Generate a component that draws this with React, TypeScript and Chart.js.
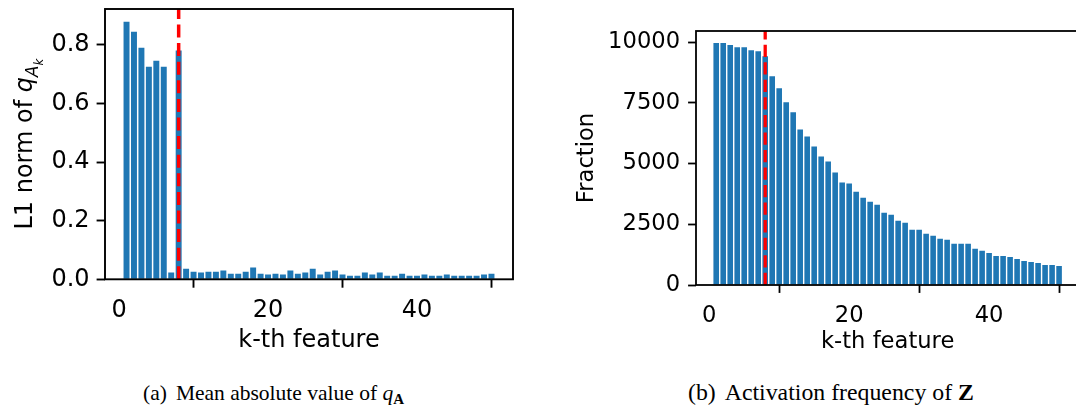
import React, { useEffect, useRef } from "react";
import { Chart, registerables } from "chart.js";

Chart.register(...registerables);

// ---------------- data ----------------
const features = [
  1, 2, 3, 4, 5, 6, 7, 8, 9, 10,
  11, 12, 13, 14, 15, 16, 17, 18, 19, 20,
  21, 22, 23, 24, 25, 26, 27, 28, 29, 30,
  31, 32, 33, 34, 35, 36, 37, 38, 39, 40,
  41, 42, 43, 44, 45, 46, 47, 48, 49, 50,
];

const l1Norm = [
  0.878, 0.844, 0.79, 0.725, 0.745, 0.725, 0.023, 0.78, 0.036, 0.026,
  0.023, 0.026, 0.026, 0.03, 0.019, 0.019, 0.026, 0.04, 0.019, 0.016,
  0.019, 0.016, 0.03, 0.019, 0.023, 0.036, 0.016, 0.026, 0.03, 0.016,
  0.0125, 0.0125, 0.023, 0.016, 0.023, 0.0125, 0.0125, 0.019, 0.0125, 0.0125,
  0.016, 0.0125, 0.0125, 0.016, 0.0125, 0.0125, 0.0125, 0.0125, 0.016, 0.019,
];

const activationFreq = [
  9959, 9959, 9876, 9793, 9793, 9669, 9628, 9421, 8595, 8099,
  7521, 7107, 6405, 6116, 5702, 5289, 5083, 4628, 4215, 4174,
  3843, 3595, 3430, 3306, 2975, 2893, 2645, 2562, 2273, 2273,
  2107, 2025, 1901, 1860, 1694, 1694, 1694, 1488, 1405, 1322,
  1198, 1198, 1157, 1074, 992, 950, 909, 826, 826, 785,
];

const threshold = 8;

const xTickValues = [0, 20, 40];
const xTickLabels = ["0", "20", "40"];
const l1TickValues = [0, 0.2, 0.4, 0.6, 0.8];
const l1TickLabels = ["0.0", "0.2", "0.4", "0.6", "0.8"];
const freqTickValues = [0, 2500, 5000, 7500, 10000];
const freqTickLabels = ["0", "2500", "5000", "7500", "10000"];

const xAxisLabel = "k-th feature";
const l1AxisLabel = "L1 norm of ";
const freqAxisLabel = "Fraction";

// ---------------- styling ----------------
const BLUE = "#1f77b4";
const RED = "#ff0000";
const FONT = "DejaVu Sans";

type Area = { left: number; top: number; right: number; bottom: number };
type PanelSpec = {
  width: number;
  height: number;
  area: Area;
  s: number;
  values: number[];
  yTicks: number[];
  yLabels: string[];
  yPad: number;
  xPad: number;
  xTitlePad: number;
  yTitle: string;
  yTitlePad: number;
  math: boolean;
  mathX: number;
};

function buildChart(canvas: HTMLCanvasElement, p: PanelSpec) {
  const fs = 24 * p.s;
  const lw = 1.9 * p.s;
  const tl = 8.4 * p.s;
  const lo = features[0] - 0.4;
  const hi = features[features.length - 1] + 0.4;
  const margin = (hi - lo) * 0.05;
  const yMax = Math.max(...p.values) * 1.05;
  const font = { family: FONT, size: fs, lineHeight: 1.2 };

  const refLine = {
    id: "refLine",
    afterDatasetsDraw(chart: any) {
      const { ctx, chartArea, scales } = chart;
      const x = scales.x.getPixelForValue(threshold);
      ctx.save();
      ctx.strokeStyle = RED;
      ctx.lineWidth = 3.5 * p.s;
      ctx.setLineDash([13 * p.s, 5.6 * p.s]);
      ctx.beginPath();
      ctx.moveTo(x, chartArea.bottom);
      ctx.lineTo(x, chartArea.top);
      ctx.stroke();
      ctx.restore();
    },
  };

  const frame = {
    id: "frame",
    afterDraw(chart: any) {
      const { ctx, chartArea } = chart;
      ctx.save();
      ctx.strokeStyle = "#000";
      ctx.lineWidth = lw;
      ctx.strokeRect(
        chartArea.left,
        chartArea.top,
        chartArea.right - chartArea.left,
        chartArea.bottom - chartArea.top
      );
      ctx.restore();
    },
  };

  const mathTitle = {
    id: "mathTitle",
    afterDraw(chart: any) {
      const { ctx, chartArea } = chart;
      const parts = [
        { t: p.yTitle, f: `${fs}px "${FONT}"`, dy: 0 },
        { t: "q", f: `italic ${fs}px "${FONT}"`, dy: 0 },
        { t: "A", f: `italic ${fs * 0.7}px "${FONT}"`, dy: fs * 0.26 },
        { t: "k", f: `italic ${fs * 0.49}px "${FONT}"`, dy: fs * 0.26 + fs * 0.7 * 0.3 },
      ];
      ctx.save();
      ctx.fillStyle = "#000";
      ctx.textBaseline = "alphabetic";
      ctx.textAlign = "left";
      const widths = parts.map((pt) => {
        ctx.font = pt.f;
        return ctx.measureText(pt.t).width;
      });
      const total = widths.reduce((a, b) => a + b, 0);
      ctx.translate(p.mathX, (chartArea.top + chartArea.bottom) / 2);
      ctx.rotate(-Math.PI / 2);
      let x = -total / 2;
      parts.forEach((pt, i) => {
        ctx.font = pt.f;
        ctx.fillText(pt.t, x, pt.dy);
        x += widths[i];
      });
      ctx.restore();
    },
  };

  const gridOpts = {
    display: true,
    drawOnChartArea: false,
    drawTicks: true,
    tickLength: tl,
    tickWidth: lw,
    tickColor: "#000",
  };

  return new Chart(canvas, {
    type: "bar",
    data: {
      datasets: [
        {
          data: features.map((k, i) => ({ x: k, y: p.values[i] })),
          backgroundColor: BLUE,
          borderWidth: 0,
          barPercentage: 0.8,
          categoryPercentage: 1,
        },
      ],
    },
    options: {
      animation: false,
      responsive: false,
      events: [],
      layout: {
        padding: {
          left: 0,
          top: p.area.top,
          right: p.width - p.area.right,
          bottom: 0,
        },
      },
      plugins: {
        legend: { display: false },
        tooltip: { enabled: false },
        title: { display: false },
      },
      scales: {
        x: {
          type: "linear",
          min: lo - margin,
          max: hi + margin,
          offset: false,
          afterFit: (sc: any) => {
            sc.height = p.height - p.area.bottom;
            sc.paddingLeft = 0;
            sc.paddingRight = 0;
          },
          afterBuildTicks: (sc: any) => {
            sc.ticks = xTickValues.map((v) => ({ value: v }));
          },
          ticks: {
            font,
            color: "#000",
            padding: p.xPad,
            maxRotation: 0,
            autoSkip: false,
            callback: (v: any) => xTickLabels[xTickValues.indexOf(Number(v))],
          },
          grid: gridOpts,
          border: { display: false },
          title: {
            display: true,
            text: xAxisLabel,
            font,
            color: "#000",
            padding: { top: 0, bottom: p.xTitlePad },
          },
        },
        y: {
          type: "linear",
          min: 0,
          max: yMax,
          afterFit: (sc: any) => {
            sc.width = p.area.left;
            sc.paddingTop = 0;
            sc.paddingBottom = 0;
          },
          afterBuildTicks: (sc: any) => {
            sc.ticks = p.yTicks.map((v) => ({ value: v }));
          },
          ticks: {
            font,
            color: "#000",
            padding: p.yPad,
            autoSkip: false,
            callback: (v: any) => p.yLabels[p.yTicks.indexOf(Number(v))],
          },
          grid: gridOpts,
          border: { display: false },
          title: p.math
            ? { display: false }
            : {
                display: true,
                text: p.yTitle,
                font,
                color: "#000",
                padding: { top: p.yTitlePad, bottom: 0 },
              },
        },
      },
    } as any,
    plugins: p.math ? [refLine, frame, mathTitle] : [refLine, frame],
  });
}

const panelA: PanelSpec = {
  width: 540,
  height: 360,
  area: { left: 105, top: 9, right: 513, bottom: 279.3 },
  s: 1,
  values: l1Norm,
  yTicks: l1TickValues,
  yLabels: l1TickLabels,
  yPad: 7,
  xPad: 9,
  xTitlePad: 5,
  yTitle: l1AxisLabel,
  yTitlePad: 0,
  math: true,
  mathX: 31.7,
};

const panelB: PanelSpec = {
  width: 545,
  height: 360,
  area: { left: 156, top: 31, right: 539.3, bottom: 285 },
  s: 0.943,
  values: activationFreq,
  yTicks: freqTickValues,
  yLabels: freqTickLabels,
  yPad: 8,
  xPad: 10,
  xTitlePad: 4.6,
  yTitle: freqAxisLabel,
  yTitlePad: 34,
  math: false,
  mathX: 0,
};

function Panel({ p, left }: { p: PanelSpec; left: number }) {
  const ref = useRef<HTMLCanvasElement | null>(null);
  useEffect(() => {
    if (!ref.current) return;
    const chart = buildChart(ref.current, p);
    return () => chart.destroy();
  }, [p]);
  return (
    <canvas
      ref={ref}
      width={p.width}
      height={p.height}
      style={{ position: "absolute", left, top: 0, width: p.width, height: p.height }}
    />
  );
}

function captionStyle(size: number, left: number): React.CSSProperties {
  const baseline = 401;
  return {
    position: "absolute",
    left,
    top: baseline - 0.8375 * size,
    fontFamily: '"Liberation Serif", "Times New Roman", serif',
    fontSize: size,
    lineHeight: 1,
    whiteSpace: "nowrap",
    color: "#000",
  };
}

export default function App() {
  return (
    <div
      style={{
        position: "fixed",
        left: 0,
        top: 0,
        width: 1076,
        height: 415,
        overflow: "hidden",
        background: "#fff",
      }}
    >
      <Panel p={panelA} left={0} />
      <Panel p={panelB} left={540} />
      <div style={captionStyle(21.5, 143)}>
        (a)<span style={{ marginLeft: 9 }}>Mean absolute value of </span>
        <i>q</i>
        <span style={{ fontSize: 15, fontWeight: "bold", position: "relative", top: 4 }}>A</span>
      </div>
      <div style={captionStyle(23.8, 688)}>
        (b)<span style={{ marginLeft: 9 }}>Activation frequency of </span>
        <b>Z</b>
      </div>
    </div>
  );
}
